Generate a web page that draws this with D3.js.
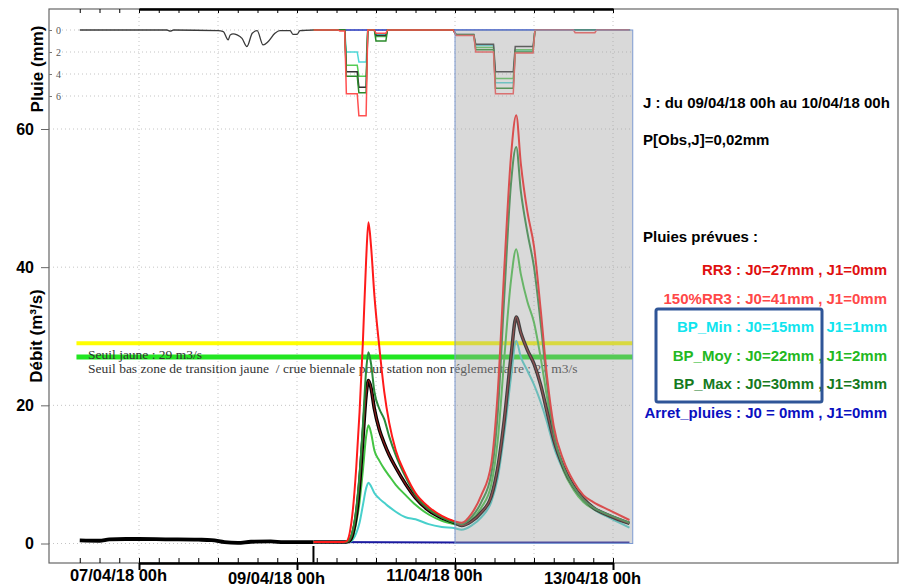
<!DOCTYPE html>
<html>
<head>
<meta charset="utf-8">
<script src="https://cdn.jsdelivr.net/npm/d3@7"></script>
<style>
  body { margin: 0; background: #fff; }
  svg { display: block; font-family: "Liberation Sans", Arial, sans-serif; }
  .grid line { stroke: #c4c4c4; stroke-dasharray: 1,3; }
</style>
</head>
<body>
<div id="chart"></div>
<script>
// Hours are counted from 09/04/18 00h
var obsRainHours = [-66, -39.5, -38.5, -37.5, -24, -22.4, -20.9, -20.3, -19.4, -18.2, -16.7, -15.2, -13.6, -12.1, -10.3, -8.8, -6.7, -5.2, -2.1, -1.2, 0, 0.9, 5];
var obsRain = [0, 0, 0.1, 0, 0.06, 0.15, 0.9, 0.45, 0.36, 0.45, 0.76, 1.5, 0.3, 0.06, 1.36, 1.06, 0.3, 0.06, 0.06, 0.4, 0.4, 0.06, 0];

var obsFlowHours = [-66, -60, -57, -52, -48, -40, -30, -26, -22, -18, -14, -8, -4, 0, 5];
var obsFlow = [0.45, 0.4, 0.6, 0.65, 0.65, 0.6, 0.55, 0.5, 0.2, 0.1, 0.25, 0.3, 0.2, 0.2, 0.2];

// Forecast rain (step shaped)
var rainHours = [5, 12.5, 13, 14.5, 15, 18.3, 18.8, 21, 21.5, 23.5, 24, 27, 27.5, 47.5, 48.3, 53.7, 54.3, 59.7, 60.3, 65.7, 66.3, 71.7, 72.3, 84, 84.5, 90.5, 91, 101];
var rainRed = [0, 0, 0.1, 0.1, 5.8, 5.8, 7.8, 7.8, 0, 0, 0.3, 0.3, 0, 0, 0.5, 0.5, 2.0, 2.0, 5.8, 5.8, 2.1, 2.1, 0, 0, 0.25, 0.25, 0, 0];
var rainDarkGreen = [0, 0, 0, 0, 4.2, 4.2, 5.7, 5.7, 0, 0, 1.0, 1.0, 0, 0, 0.45, 0.45, 1.8, 1.8, 5.3, 5.3, 2.0, 2.0, 0, 0, 0, 0, 0, 0];
var rainBlack = [0, 0, 0, 0, 3.8, 3.8, 5.2, 5.2, 0, 0, 0.5, 0.5, 0, 0, 0.4, 0.4, 1.3, 1.3, 3.8, 3.8, 1.5, 1.5, 0, 0, 0, 0, 0, 0];
var rainLightGreen = [0, 0, 0, 0, 3.2, 3.2, 4.2, 4.2, 0, 0, 0.6, 0.6, 0, 0, 0.45, 0.45, 1.6, 1.6, 4.4, 4.4, 1.8, 1.8, 0, 0, 0, 0, 0, 0];
var rainCyan = [0, 0, 0, 0, 2.0, 2.0, 2.9, 2.9, 0, 0, 0.4, 0.4, 0, 0, 0.4, 0.4, 1.4, 1.4, 4.8, 4.8, 1.9, 1.9, 0, 0, 0, 0, 0, 0];
var rainStopHours = [5, 101];
var rainStop = [0, 0];

// Forecast flows (m3/s)
var fcHours = [5, 14, 15, 16, 17, 18, 19, 20, 21, 21.7, 22.5, 23.5, 25, 26.5, 28, 30, 33, 36, 40, 44, 48, 50, 53, 56, 59, 61, 63, 65, 66.6, 68, 70, 72, 74, 76, 78, 81, 84, 87, 90, 95, 101];
var flowRed = [0.2, 0.2, 0.3, 1.5, 5, 11, 19, 29, 41, 46.5, 43, 36, 28.5, 22, 17.5, 13.5, 10, 7.3, 5.3, 4.0, 3.2, 3.0, 4.3, 7, 11.5, 22, 40, 56, 62, 55, 48, 43, 34, 24, 17, 12, 9, 7, 6, 4.8, 3.4];
var flowDarkGreen = [0.2, 0.2, 0.2, 0.6, 2, 5, 10, 17, 25, 27.7, 26, 22, 19.5, 18, 15.5, 12.8, 9.6, 7, 5, 3.8, 3.0, 2.8, 3.8, 6, 10, 19, 36, 52, 57.4, 51, 45, 40, 32, 23, 16, 11, 8.2, 6.3, 5.2, 4.1, 3.0];
var flowBlack = [0.2, 0.2, 0.2, 0.4, 1.5, 4, 8.5, 15, 21.5, 23.6, 22.5, 19.5, 16.5, 14.5, 12.8, 11, 8.6, 6.6, 4.8, 3.7, 3.0, 2.6, 3.2, 4.5, 6.8, 11, 18, 27, 32.8, 30.5, 28, 26, 23, 19, 15, 11, 8.3, 6.5, 5.2, 4.0, 2.9];
var flowLightGreen = [0.2, 0.2, 0.2, 0.3, 1, 3, 6, 10.5, 15.5, 17.1, 16, 13.5, 12, 10.8, 9.8, 8.5, 7, 5.6, 4.2, 3.3, 2.8, 2.6, 3.4, 5.2, 8.5, 15, 27, 38, 42.6, 39, 35, 32, 27, 21, 15.5, 10.5, 7.8, 6, 5, 3.9, 2.9];
var flowCyan = [0.2, 0.2, 0.2, 0.2, 0.6, 1.5, 3, 5.5, 8, 8.8, 8.3, 7.3, 6.5, 5.9, 5.3, 4.6, 3.8, 3.5, 2.8, 2.4, 2.2, 2.0, 2.6, 3.8, 6, 9.5, 16, 24, 29.3, 27, 25, 23, 20.5, 17.5, 14, 10.5, 8, 6.3, 5, 3.7, 2.3];
var flowStopHours = [5, 50, 101];
var flowStop = [0.2, 0.15, 0.15];

// Thresholds
var thresholdValues = [29, 27];
var thresholdLabels = ["Seuil jaune : 29 m3/s", "Seuil bas zone de transition jaune  / crue biennale pour station non réglementaire : 27 m3/s"];

// Forecast window (J0 + J1) and the "now" marker
var windowHours = [48, 102];
var nowHour = 5;

var flowTicks = [0, 20, 40, 60];
var rainTicks = [0, 2, 4, 6];

var legendLines = [
  { text: "RR3 : J0=27mm , J1=0mm", color: "#e01010" },
  { text: "150%RR3 : J0=41mm , J1=0mm", color: "#ff4848" },
  { text: "BP_Min : J0=15mm   J1=1mm", color: "#10e4ee" },
  { text: "BP_Moy : J0=22mm , J1=2mm", color: "#22b822" },
  { text: "BP_Max : J0=30mm , J1=3mm", color: "#167a1e" },
  { text: "Arret_pluies : J0 = 0mm , J1=0mm", color: "#0a10c0" }
];

var svgWidth = 903;
var svgHeight = 588;

var frame = { left: 49, top: 9, right: 898, bottom: 563 };

var base = Date.UTC(2018, 3, 9);
function hourDate(h) {
  return new Date(base + h * 3600000);
}
function zip(hours, values) {
  return hours.map((h, i) => ({ t: hourDate(h), v: values[i] }));
}

var svg = d3.select("#chart")
  .append("svg")
  .attr("width", svgWidth)
  .attr("height", svgHeight);

// Scales
var xScale = d3.scaleUtc()
  .domain([new Date(Date.UTC(2018, 3, 7)), new Date(Date.UTC(2018, 3, 13))])
  .range([139, 613]);

var yFlow = d3.scaleLinear()
  .domain([0, 60])
  .range([543.5, 129]);

var yRain = d3.scaleLinear()
  .domain([0, 6])
  .range([30, 96]);

var plotRight = xScale(hourDate(windowHours[1]));

// Grid lines
var grid = svg.append("g").classed("grid", true);
grid.selectAll(".vgrid")
  .data(d3.utcDay.range(new Date(Date.UTC(2018, 3, 7)), new Date(Date.UTC(2018, 3, 13, 1))))
  .enter()
  .append("line")
  .attr("x1", d => xScale(d))
  .attr("x2", d => xScale(d))
  .attr("y1", frame.top)
  .attr("y2", frame.bottom);
grid.selectAll(".rgrid")
  .data(rainTicks)
  .enter()
  .append("line")
  .attr("x1", 62)
  .attr("x2", plotRight)
  .attr("y1", d => yRain(d))
  .attr("y2", d => yRain(d));
grid.selectAll(".fgrid")
  .data(flowTicks)
  .enter()
  .append("line")
  .attr("x1", frame.left)
  .attr("x2", plotRight)
  .attr("y1", d => yFlow(d))
  .attr("y2", d => yFlow(d));

// Threshold lines and labels
var thresholdColors = ["#ffff00", "#22e622"];
var x0 = xScale(hourDate(-67));
thresholdValues.forEach(function(v, i) {
  svg.append("line")
    .attr("x1", x0)
    .attr("x2", plotRight)
    .attr("y1", yFlow(v))
    .attr("y2", yFlow(v))
    .attr("stroke", thresholdColors[i])
    .attr("stroke-width", i == 0 ? 4 : 5);
});
svg.selectAll(".thLabel")
  .data(thresholdLabels)
  .enter()
  .append("text")
  .attr("x", 88)
  .attr("y", (d, i) => 359 + i * 14)
  .attr("font-family", "'Liberation Serif', 'Times New Roman', serif")
  .attr("font-size", 13.5)
  .attr("fill", "#333")
  .style("white-space", "pre")
  .text(d => d);

// Line generators
var flowLine = d3.line()
  .x(d => xScale(d.t))
  .y(d => yFlow(d.v))
  .curve(d3.curveMonotoneX);

var rainLine = d3.line()
  .x(d => xScale(d.t))
  .y(d => yRain(d.v));

// Observed rain and flow
svg.append("path")
  .attr("d", rainLine.curve(d3.curveMonotoneX)(zip(obsRainHours, obsRain)))
  .attr("fill", "none")
  .attr("stroke", "#3a3a3a")
  .attr("stroke-width", 1.3);
rainLine.curve(d3.curveLinear);

svg.append("path")
  .attr("d", flowLine(zip(obsFlowHours, obsFlow)))
  .attr("fill", "none")
  .attr("stroke", "#000")
  .attr("stroke-width", 3.8);

// Forecast rains
var rainSeries = [
  { v: rainStop, h: rainStopHours, c: "#2233bb", w: 1.5 },
  { v: rainCyan, h: rainHours, c: "#50d8d8", w: 1.5 },
  { v: rainLightGreen, h: rainHours, c: "#55cc55", w: 1.5 },
  { v: rainBlack, h: rainHours, c: "#333", w: 1.5 },
  { v: rainDarkGreen, h: rainHours, c: "#2a8a2a", w: 1.5 },
  { v: rainRed, h: rainHours, c: "#ff5050", w: 1.5 }
];
rainSeries.forEach(function(s) {
  svg.append("path")
    .attr("d", rainLine(zip(s.h, s.v)))
    .attr("fill", "none")
    .attr("stroke", s.c)
    .attr("stroke-width", s.w);
});

// Forecast flows
var flowSeries = [
  { v: flowStop, h: flowStopHours, c: "#1a1aa0", w: 2 },
  { v: flowCyan, h: fcHours, c: "#48d0cc", w: 2 },
  { v: flowLightGreen, h: fcHours, c: "#44c444", w: 2 },
  { v: flowBlack, h: fcHours, c: "#000", w: 3.5 },
  { v: flowBlack, h: fcHours, c: "#8a1c1c", w: 1.2 },
  { v: flowDarkGreen, h: fcHours, c: "#2a8a3a", w: 2 },
  { v: flowRed, h: fcHours, c: "#ff1a1a", w: 2 }
];
flowSeries.forEach(function(s) {
  svg.append("path")
    .attr("d", flowLine(zip(s.h, s.v)))
    .attr("fill", "none")
    .attr("stroke", s.c)
    .attr("stroke-width", s.w);
});

// Grey forecast window overlay
var wx0 = xScale(hourDate(windowHours[0]));
var wx1 = xScale(hourDate(windowHours[1]));
svg.append("rect")
  .attr("x", wx0)
  .attr("y", yRain(0))
  .attr("width", wx1 - wx0)
  .attr("height", yFlow(0) - yRain(0))
  .attr("fill", "#a0a0a0")
  .attr("opacity", 0.4);
svg.append("rect")
  .attr("x", wx0)
  .attr("y", yRain(0))
  .attr("width", wx1 - wx0)
  .attr("height", yFlow(0) - yRain(0))
  .attr("fill", "none")
  .attr("stroke", "#7c9ad2")
  .attr("stroke-width", 1);

// Now marker
svg.append("line")
  .attr("x1", xScale(hourDate(nowHour)))
  .attr("x2", xScale(hourDate(nowHour)))
  .attr("y1", 546)
  .attr("y2", frame.bottom)
  .attr("stroke", "#000")
  .attr("stroke-width", 2);

// Frame
svg.append("rect")
  .attr("x", frame.left)
  .attr("y", frame.top)
  .attr("width", frame.right - frame.left)
  .attr("height", frame.bottom - frame.top)
  .attr("fill", "none")
  .attr("stroke", "#666")
  .attr("stroke-width", 1.2);

// Time axes
var sixHours = d3.utcHour.every(6).range(hourDate(-66), hourDate(0.5 + 96));
var topAxis = svg.append("g")
  .attr("transform", `translate(0, ${frame.top})`)
  .call(d3.axisBottom(xScale).tickValues(sixHours).tickSize(4).tickSizeOuter(0).tickFormat(""));
topAxis.select(".domain").attr("stroke-width", 2.5);

var bottomMinor = svg.append("g")
  .attr("transform", `translate(0, ${frame.bottom})`)
  .call(d3.axisTop(xScale).tickValues(sixHours).tickSize(5).tickSizeOuter(0).tickFormat(""));
bottomMinor.select(".domain").attr("stroke-width", 2.5);

var majorDates = d3.utcDay.every(2).range(new Date(Date.UTC(2018, 3, 7)), new Date(Date.UTC(2018, 3, 13, 1)));
var bottomAxis = svg.append("g")
  .attr("transform", `translate(0, ${frame.bottom})`)
  .call(d3.axisBottom(xScale).tickValues(majorDates).tickSize(7).tickSizeOuter(0).tickFormat(d3.utcFormat("%d/%m/%y %Hh")));
bottomAxis.select(".domain").remove();
bottomAxis.selectAll(".tick line").attr("stroke-width", 2);
bottomAxis.selectAll("text")
  .attr("dy", 0)
  .attr("dx", -21)
  .attr("y", (d, i) => i % 2 ? 20.5 : 18)
  .attr("font-family", "'Liberation Sans', Arial, sans-serif")
  .attr("font-weight", "bold")
  .attr("font-size", 16.5)
  .attr("fill", "#000");

// Flow axis
var leftAxis = svg.append("g")
  .attr("transform", `translate(${frame.left}, 0)`)
  .call(d3.axisLeft(yFlow).tickValues(flowTicks).tickSize(8).tickPadding(7));
leftAxis.select(".domain").remove();
leftAxis.selectAll(".tick line").attr("stroke", "#666");
leftAxis.selectAll("text")
  .attr("font-family", "'Liberation Sans', Arial, sans-serif")
  .attr("font-weight", "bold")
  .attr("font-size", 16)
  .attr("fill", "#000");

// Rain axis
var rainAxis = svg.append("g")
  .attr("transform", `translate(${frame.left}, 0)`)
  .call(d3.axisRight(yRain).tickValues(rainTicks).tickSize(3).tickPadding(4).tickFormat(d3.format("d")));
rainAxis.select(".domain").remove();
rainAxis.selectAll(".tick line").attr("stroke", "#777");
rainAxis.selectAll("text")
  .attr("font-family", "'Liberation Serif', serif")
  .attr("font-size", 10)
  .attr("fill", "#555");

// Axis titles
svg.append("text")
  .attr("transform", "translate(43, 69) rotate(-90)")
  .attr("text-anchor", "middle")
  .attr("font-weight", "bold")
  .attr("font-size", 17)
  .text("Pluie (mm)");

svg.append("text")
  .attr("transform", "translate(42, 336) rotate(-90)")
  .attr("text-anchor", "middle")
  .attr("font-weight", "bold")
  .attr("font-size", 17)
  .text("Débit (m³/s)");

// Information panel
var info = svg.append("g")
  .attr("font-weight", "bold")
  .attr("font-size", 15);
info.append("text").attr("x", 643).attr("y", 108).text("J : du 09/04/18 00h au 10/04/18 00h");
info.append("text").attr("x", 643).attr("y", 145).text("P[Obs,J]=0,02mm");
info.append("text").attr("x", 643).attr("y", 242).text("Pluies prévues :");
info.selectAll(".leg")
  .data(legendLines)
  .enter()
  .append("text")
  .attr("x", 887)
  .attr("y", (d, i) => 275 + i * 28.6)
  .attr("text-anchor", "end")
  .attr("fill", d => d.color)
  .style("white-space", "pre")
  .text(d => d.text);

svg.append("rect")
  .attr("x", 656)
  .attr("y", 309)
  .attr("width", 166)
  .attr("height", 93)
  .attr("rx", 2)
  .attr("fill", "none")
  .attr("stroke", "#2f5597")
  .attr("stroke-width", 3);
</script>
</body>
</html>
